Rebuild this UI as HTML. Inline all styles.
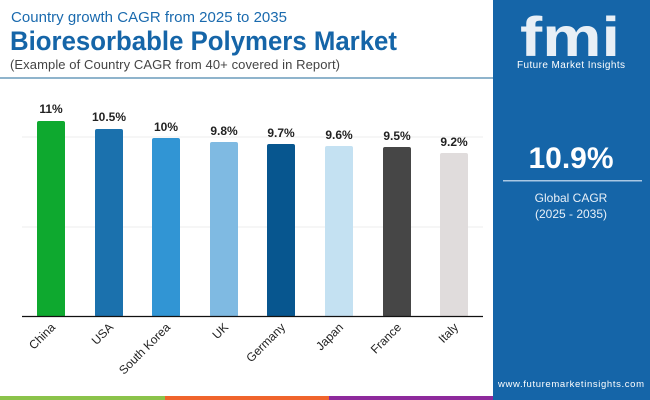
<!DOCTYPE html>
<html><head><style>
body{margin:0;width:650px;height:400px;overflow:hidden;background:#fff;font-family:"Liberation Sans",sans-serif;}
</style></head><body>
<svg width="650" height="400" xmlns="http://www.w3.org/2000/svg" style="position:absolute;left:0;top:0">
<text x="11" y="22" font-size="15" fill="#1a6aae" textLength="276">Country growth CAGR from 2025 to 2035</text>
<text x="10" y="50" font-size="27" font-weight="bold" fill="#1565a8" textLength="387" lengthAdjust="spacingAndGlyphs">Bioresorbable Polymers Market</text>
<text x="10" y="69" font-size="13" fill="#444" textLength="330">(Example of Country CAGR from 40+ covered in Report)</text>
<rect x="0" y="77" width="493" height="2" fill="#8fb4cc"/>
<line x1="22" y1="137" x2="483" y2="137" stroke="#eee"/>
<line x1="22" y1="227" x2="483" y2="227" stroke="#eee"/>
<g>
<rect x="37" y="121" width="28" height="196" rx="2" fill="#0ea92f"/>
<rect x="95" y="129" width="28" height="188" rx="2" fill="#1b71ad"/>
<rect x="152" y="138" width="28" height="179" rx="2" fill="#3195d4"/>
<rect x="210" y="142" width="28" height="175" rx="2" fill="#7fbae2"/>
<rect x="267" y="144" width="28" height="173" rx="2" fill="#07568f"/>
<rect x="325" y="146" width="28" height="171" rx="2" fill="#c4e1f2"/>
<rect x="383" y="147" width="28" height="170" rx="2" fill="#464646"/>
<rect x="440" y="153" width="28" height="164" rx="2" fill="#e0dcdc"/>
</g>
<line x1="22" y1="316.5" x2="483" y2="316.5" stroke="#111" stroke-width="1.2"/>
<g font-size="12" font-weight="bold" fill="#222" text-anchor="middle">
<text x="51" y="113">11%</text><text x="109" y="121">10.5%</text><text x="166" y="131">10%</text>
<text x="224" y="135">9.8%</text><text x="281" y="137">9.7%</text><text x="339" y="139">9.6%</text>
<text x="397" y="140">9.5%</text><text x="454" y="146">9.2%</text>
</g>
<g font-size="12" fill="#222" text-anchor="end">
<text transform="translate(56,328) rotate(-45)">China</text>
<text transform="translate(114,328) rotate(-45)">USA</text>
<text transform="translate(171,328) rotate(-45)">South Korea</text>
<text transform="translate(229,328) rotate(-45)">UK</text>
<text transform="translate(286,328) rotate(-45)">Germany</text>
<text transform="translate(344,328) rotate(-45)">Japan</text>
<text transform="translate(402,328) rotate(-45)">France</text>
<text transform="translate(459,328) rotate(-45)">Italy</text>
</g>
<rect x="0" y="396" width="165" height="4" fill="#8bc34a"/>
<rect x="165" y="396" width="164" height="4" fill="#f0642c"/>
<rect x="329" y="396" width="164" height="4" fill="#8e2a9c"/>
<rect x="493" y="0" width="157" height="400" fill="#1565a8"/>
<text x="570" y="56" font-size="56" font-weight="bold" fill="#fff" text-anchor="middle" opacity="0.9" textLength="100" lengthAdjust="spacingAndGlyphs">fmi</text>
<text x="571" y="68" font-size="10" fill="#fff" text-anchor="middle" textLength="108">Future Market Insights</text>
<text x="571" y="168" font-size="30" font-weight="bold" fill="#fff" text-anchor="middle">10.9%</text>
<rect x="503" y="180" width="139" height="1.5" fill="#a9c8e4"/>
<text x="571" y="202" font-size="12" fill="#e8f0f8" text-anchor="middle">Global CAGR</text>
<text x="571" y="218" font-size="12" fill="#e8f0f8" text-anchor="middle">(2025 - 2035)</text>
<text x="571" y="387" font-size="9.5" fill="#fff" text-anchor="middle" textLength="146">www.futuremarketinsights.com</text>
</svg>
</body></html>
